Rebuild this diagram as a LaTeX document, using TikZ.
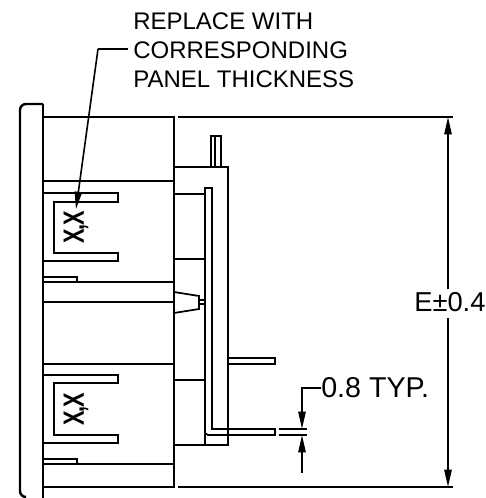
\documentclass[tikz,border=0pt]{standalone}
\usepackage{fontspec}
\setmainfont{Liberation Sans}
\usetikzlibrary{arrows.meta}
\tikzset{
  thick line/.style={line width=1.8pt},
  thin line/.style={line width=1.3pt},
  leader/.style={line width=1.2pt,-{Triangle[length=13pt,width=5.5pt]}},
  notelabel/.style={inner sep=0pt,font=\fontsize{18}{20}\selectfont},
  dimlabel/.style={inner sep=0pt,font=\fontsize{20.5}{23}\selectfont},
  cliptext/.style={inner sep=0pt,rotate=90,xscale=0.74,font=\fontsize{22}{24}\selectfont\bfseries}
}
\begin{document}
\begin{tikzpicture}[x=0.75pt,y=-0.75pt]
  \useasboundingbox (0,0) rectangle (485,498);
  % Bezel
  \draw[thick line,rounded corners=4.5pt] (43,104) -- (20,104) -- (20,497) -- (25,497);
  \draw[thick line] (43,104) -- (43,498);
  % Housing
  \draw[thin line] (43,117) -- (174,117) -- (174,487) -- (43,487);
  \draw[thick line] (43,181) -- (174,181);
  \draw[thin line] (43,282) -- (174,282);
  \draw[thin line] (43,302) -- (174,302);
  \draw[thick line] (43,364) -- (174,364);
  \draw[thin line] (43,464) -- (174,464);
  % Clips, upper
  \draw[thin line] (43,193) -- (118,193) -- (118,202) -- (54,202) -- (54,253) -- (118,253) -- (118,261) -- (43,261);
  \draw[thin line] (43,277) -- (77,277) -- (77,282);
  % Clips, lower
  \draw[thin line] (43,375) -- (118,375) -- (118,383) -- (54,383) -- (54,435) -- (118,435) -- (118,443) -- (43,443);
  \draw[thin line] (43,459) -- (77,459) -- (77,464);
  % Back block
  \draw[thin line] (174,167) -- (228,167) -- (228,445) -- (174,445);
  \draw[thin line] (205,433) -- (205,188) -- (212,188) -- (212,429) -- (275,429) -- (275,435) -- (208,435) -- (205,433) -- (205,445);
  \draw[thin line] (174,194) -- (205,194);
  \draw[thick line] (174,259) -- (205,259);
  \draw[thin line] (174,380) -- (205,380);
  % Top pin
  \draw[thin line] (211,167) -- (211,136) -- (221,136) -- (221,167);
  \draw[thin line] (215,136) -- (215,167);
  % Side pin
  \draw[thin line] (228,358) -- (275,358) -- (275,364) -- (228,364);
  % Latch
  \draw[thin line] (174,292) -- (199,296) -- (199,309) -- (174,313);
  \draw[thin line] (199,300) -- (205,300);
  \draw[thin line] (199,304) -- (205,304);
  % Extension lines
  \draw[thin line] (178,117) -- (453,117);
  \draw[thin line] (178,487) -- (453,487);
  \draw[thin line] (279,429) -- (307,429);
  \draw[thin line] (279,435) -- (307,435);
  % E dimension
  \node[dimlabel,anchor=base west] (elabel) at (414,311) {E±0.4};
  \coordinate (etop) at (448,117);
  \coordinate (ebot) at (448,487);
  \draw[leader] (448,289) -- (etop);
  \draw[leader] (448,318) -- (ebot);
  % 0.8 dimension
  \node[dimlabel,anchor=west,font=\fontsize{21.5}{23}\selectfont] (typlabel) at (321,388) {0.8 TYP.};
  \coordinate (gaptop) at (302,429);
  \coordinate (gapbot) at (302,435);
  \draw[leader] (typlabel.west) -| (gaptop);
  \draw[leader] (302,473) -- (gapbot);
  % Note
  \node[notelabel,anchor=base west] (line1) at (133,30) {REPLACE WITH};
  \node[notelabel,anchor=base west] (line2) at (133,59) {CORRESPONDING};
  \node[notelabel,anchor=base west] (line3) at (133,88) {PANEL THICKNESS};
  \coordinate (notebend) at (98,49);
  \node[cliptext] (xx1) at (76,227) {X\kern-2pt,\kern-.5pt X};
  \node[cliptext] (xx2) at (76,409) {X\kern-2pt,\kern-.5pt X};
  \draw[line width=1.2pt] (128,49) -- (notebend);
  \draw[leader] (notebend) -- (76,209);
\end{tikzpicture}
\end{document}
